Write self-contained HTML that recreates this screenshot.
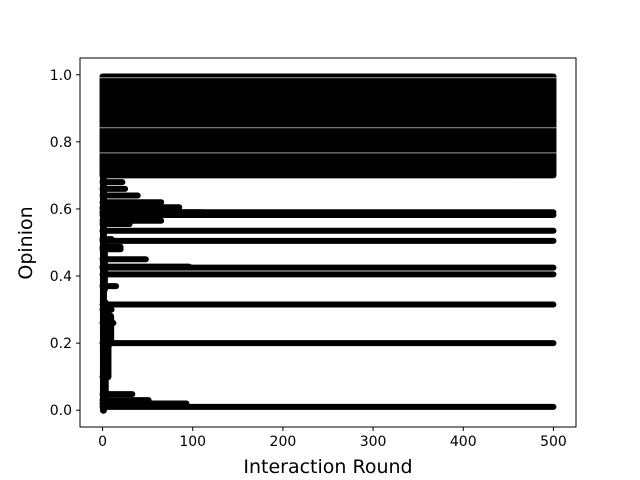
<!DOCTYPE html>
<html><head><meta charset="utf-8"><style>body{margin:0;background:#fff}svg{display:block}text{font-family:"DejaVu Sans","Liberation Sans",sans-serif}</style></head>
<body>
<svg id="chart" width="640" height="480" xmlns="http://www.w3.org/2000/svg">
<g id="marks"></g>
<rect x="80" y="58" width="496" height="369" fill="none" stroke="#000" stroke-width="1"/>
<g id="axes"></g>
<text x="328" y="473" font-size="19" text-anchor="middle">Interaction Round</text>
<text transform="translate(32,243) rotate(-90)" font-size="19" text-anchor="middle">Opinion</text>
</svg>
<script>
const xTicks=[0,100,200,300,400,500];
const yTicks=[0,0.2,0.4,0.6,0.8,1.0];
const yTickLabels=["0.0","0.2","0.4","0.6","0.8","1.0"];
// dense consensus region
const bandLow=[0.7];
const bandHigh=[0.995];
// thin gaps inside the dense region
const bandGaps=[0.991,0.842,0.767];
// final opinion clusters (from round 0 to 500)
const clusterValues=[0.59,0.582,0.535,0.505,0.425,0.405,0.315,0.2,0.01];
// transient trajectories: start round, end round, opinion
const transStart=[0,0,0,0,0,0,0,0,0,0,0,0,0,0,0,0,0,0,0,0,0];
const transEnd=[22,25,39,65,85,110,65,30,10,20,20,48,96,15,33,51,93,12,10,6,5];
const transValue=[0.68,0.66,0.64,0.62,0.605,0.59,0.565,0.555,0.51,0.487,0.48,0.45,0.428,0.37,0.048,0.03,0.02,0.26,0.3,0.1,0.6];
// initial spread columns: round, low, high
const spreadX=[1,3,6,9,2];
const spreadLow=[0.0,0.02,0.1,0.2,0.36];
const spreadHigh=[0.7,0.32,0.3,0.28,0.5];
const xMin=-25,xMax=525,yMin=-0.05,yMax=1.05;
const L=80,R=576,T=58,B=427;
const sx=v=>L+(v-xMin)/(xMax-xMin)*(R-L);
const sy=v=>B-(v-yMin)/(yMax-yMin)*(B-T);
const NS="http://www.w3.org/2000/svg";
const marks=document.getElementById('marks'),axes=document.getElementById('axes');
function mk(tag,attrs,parent){const e=document.createElementNS(NS,tag);for(const k in attrs)e.setAttribute(k,attrs[k]);parent.appendChild(e);return e;}
bandLow.forEach((lo,i)=>{
 const e=mk('rect',{x:sx(0)-3,y:sy(bandHigh[i])-3,width:sx(500)-sx(0)+6,height:sy(lo)-sy(bandHigh[i])+6,rx:3,fill:'#000'},marks);
 
 
});
bandGaps.forEach(v=>{
 const e=mk('line',{x1:sx(0)-3,x2:sx(500)+3,y1:sy(v),y2:sy(v),stroke:'#9a9a9a','stroke-width':1},marks);
 
 
});
clusterValues.forEach(v=>{
 const e=mk('line',{x1:sx(0),x2:sx(500),y1:sy(v),y2:sy(v),stroke:'#000','stroke-width':6,'stroke-linecap':'round'},marks);
 
 
});
transValue.forEach((v,i)=>{
 const e=mk('line',{x1:sx(transStart[i]),x2:sx(transEnd[i]),y1:sy(v),y2:sy(v),stroke:'#000','stroke-width':6,'stroke-linecap':'round'},marks);
 
 
});
spreadX.forEach((x,i)=>{
 const e=mk('line',{x1:sx(x),x2:sx(x),y1:sy(spreadLow[i]),y2:sy(spreadHigh[i]),stroke:'#000','stroke-width':7,'stroke-linecap':'round'},marks);
 
 
});
xTicks.forEach(t=>{
 const x=sx(t);
 const l=mk('line',{x1:x,x2:x,y1:B,y2:B+4,stroke:'#000'},axes);
 
 
 const tx=mk('text',{x:x,y:B+19,'font-size':14,'text-anchor':'middle'},axes);tx.textContent=t;
 
 
});
yTicks.forEach((t,i)=>{
 const y=sy(t);
 const l=mk('line',{x1:L-4,x2:L,y1:y,y2:y,stroke:'#000'},axes);
 
 
 const tx=mk('text',{x:L-8,y:y+5,'font-size':14,'text-anchor':'end'},axes);tx.textContent=yTickLabels[i];
 
 
});
</script>
</body></html>
